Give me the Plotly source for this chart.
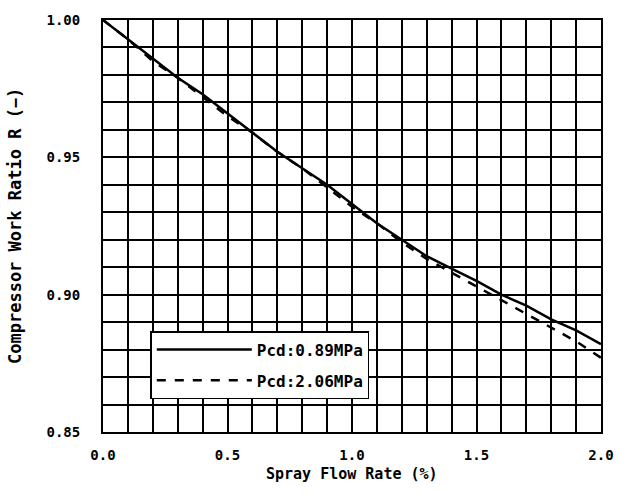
import plotly.graph_objects as go

x_vals = [0.0, 0.1, 0.2, 0.3, 0.4, 0.5, 0.6, 0.7, 0.8, 0.9, 1.0,
          1.1, 1.2, 1.3, 1.4, 1.5, 1.6, 1.7, 1.8, 1.9, 2.0]
solid_089 = [1.000, 0.993, 0.986, 0.979, 0.973, 0.966, 0.959, 0.952, 0.946, 0.940, 0.933,
             0.926, 0.920, 0.914, 0.9095, 0.905, 0.900, 0.896, 0.891, 0.887, 0.882]
dashed_206 = [1.000, 0.993, 0.985, 0.979, 0.972, 0.965, 0.959, 0.952, 0.946, 0.939, 0.932,
              0.926, 0.919, 0.913, 0.908, 0.903, 0.898, 0.893, 0.888, 0.883, 0.877]
names = ["Pcd:0.89MPa", "Pcd:2.06MPa"]
x_ticks = [0.0, 0.5, 1.0, 1.5, 2.0]
x_ticktext = ["0.0", "0.5", "1.0", "1.5", "2.0"]
y_ticks = [0.85, 0.90, 0.95, 1.00]
y_ticktext = ["0.85", "0.90", "0.95", "1.00"]
x_title = "Spray Flow Rate (%)"
y_title = "Compressor Work Ratio R (−)"

FONT = "DejaVu Sans Mono"

fig = go.Figure()
fig.add_trace(go.Scatter(x=x_vals, y=solid_089, mode="lines", name=names[0], legendgroup="a",
                         line=dict(color="black", width=2.5)))
fig.add_trace(go.Scatter(x=x_vals, y=dashed_206, mode="lines", name=names[1], legendgroup="b",
                         line=dict(color="black", width=2.5, dash="dash")))

fig.update_layout(
    width=626, height=493,
    margin=dict(l=103, r=16, t=15, b=61),
    paper_bgcolor="white", plot_bgcolor="white",
    font=dict(family=FONT, color="black", size=14, weight="bold"),
    legend=dict(x=0.095, y=0.245, xanchor="left", yanchor="top",
                bgcolor="white", bordercolor="black", borderwidth=1.5,
                font=dict(family=FONT, size=16, weight="bold"),
                itemwidth=95, tracegroupgap=7, traceorder="grouped"),
    showlegend=True,
)
fig.update_xaxes(range=[0, 2.0], showgrid=True, gridcolor="black", gridwidth=1.5,
                 tickmode="array", tickvals=x_ticks, ticktext=x_ticktext,
                 ticks="", ticklabelstandoff=9,
                 showline=True, linecolor="black", linewidth=2, mirror=True, zeroline=False,
                 minor=dict(dtick=0.1, showgrid=True, gridcolor="black", gridwidth=1.5))
fig.update_yaxes(range=[0.85, 1.00], showgrid=True, gridcolor="black", gridwidth=1.5,
                 tickmode="array", tickvals=y_ticks, ticktext=y_ticktext,
                 ticks="", ticklabelstandoff=18,
                 showline=True, linecolor="black", linewidth=2, mirror=True, zeroline=False,
                 minor=dict(dtick=0.01, showgrid=True, gridcolor="black", gridwidth=1.5))

fig.add_annotation(text=x_title, xref="paper", yref="paper", x=0.5, y=0,
                   xanchor="center", yanchor="top", yshift=-31, showarrow=False,
                   font=dict(family=FONT, size=15, weight="bold"))
fig.add_annotation(text=y_title, xref="paper", yref="paper", x=0, y=0.5,
                   xanchor="center", yanchor="middle", xshift=-88, textangle=-90,
                   showarrow=False, font=dict(family=FONT, size=17, weight="bold"))

fig.write_html("out.html")
